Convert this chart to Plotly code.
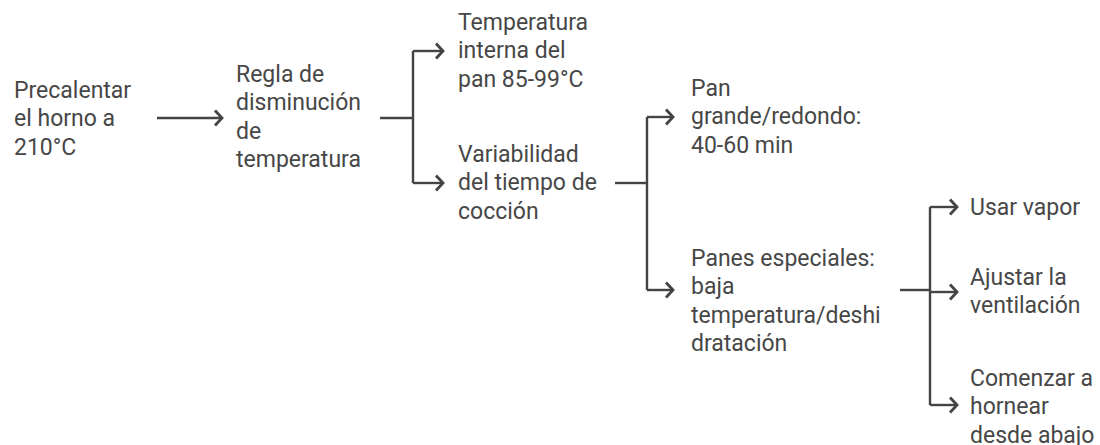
import plotly.graph_objects as go

# ---- data: node labels (one entry per text line) and the tree edges ----
node_ids = ["n1", "n2", "n3a", "n3b", "n4a", "n4b", "n5a", "n5b", "n5c"]
node_lines = {
    "n1": ["Precalentar", "el horno a", "210°C"],
    "n2": ["Regla de", "disminución", "de", "temperatura"],
    "n3a": ["Temperatura", "interna del", "pan 85-99°C"],
    "n3b": ["Variabilidad", "del tiempo de", "cocción"],
    "n4a": ["Pan", "grande/redondo:", "40-60 min"],
    "n4b": ["Panes especiales:", "baja", "temperatura/deshi", "dratación"],
    "n5a": ["Usar vapor"],
    "n5b": ["Ajustar la", "ventilación"],
    "n5c": ["Comenzar a", "hornear", "desde abajo"],
}
edges_parent = ["n1", "n2", "n3b", "n4b"]
edges_children = [["n2"], ["n3a", "n3b"], ["n4a", "n4b"], ["n5a", "n5b", "n5c"]]

# ---- layout (pixel positions of the diagram) ----
W, H = 1100, 445
LINE_H = 28.5
FONT = dict(family="Roboto", size=23, color="#474747")
LINE_COLOR = "#444444"
pos = {  # x of text, y of first text line (cap centre), y where incoming arrow points
    "n1": dict(x=12, y0=90, ay=118),
    "n2": dict(x=234, y0=74, ay=118),
    "n3a": dict(x=456, y0=22, ay=51),
    "n3b": dict(x=456, y0=154, ay=183),
    "n4a": dict(x=689, y0=88, ay=117),
    "n4b": dict(x=689, y0=258, ay=290),
    "n5a": dict(x=968, y0=207, ay=207),
    "n5b": dict(x=968, y0=277, ay=292),
    "n5c": dict(x=968, y0=378, ay=405),
}
# out-going connector: start x, branch (vertical) x, arrow tip x
branch = {
    "n1": dict(sx=157, bx=None, tx=222),
    "n2": dict(sx=380, bx=413, tx=443),
    "n3b": dict(sx=615, bx=647, tx=673),
    "n4b": dict(sx=900, bx=930, tx=957),
}

fig = go.Figure()

lx, ly = [], []
hx, hy = [], []
HEAD_DX, HEAD_DY = 7, 7.5


def seg(x0, y0, x1, y1):
    lx.extend([x0, x1, None])
    ly.extend([y0, y1, None])


def head(x, y):
    hx.extend([x - HEAD_DX, x, x - HEAD_DX, None])
    hy.extend([y - HEAD_DY, y, y + HEAD_DY, None])


for p, kids in zip(edges_parent, edges_children):
    b = branch[p]
    py = pos[p]["ay"]
    if b["bx"] is None:
        seg(b["sx"], py, b["tx"] - 1, py)
        head(b["tx"], py)
        continue
    seg(b["sx"], py, b["bx"], py)
    ys = [pos[k]["ay"] for k in kids]
    seg(b["bx"], min(ys + [py]), b["bx"], max(ys + [py]))
    for k in kids:
        ky = pos[k]["ay"]
        seg(b["bx"], ky, b["tx"] - 1, ky)
        head(b["tx"], ky)

fig.add_trace(go.Scatter(x=lx, y=ly, mode="lines",
                         line=dict(color=LINE_COLOR, width=2.4),
                         hoverinfo="skip", showlegend=False))
fig.add_trace(go.Scatter(x=hx, y=hy, mode="lines",
                         line=dict(color=LINE_COLOR, width=2.8),
                         hoverinfo="skip", showlegend=False))

for nid in node_ids:
    p = pos[nid]
    for i, t in enumerate(node_lines[nid]):
        fig.add_annotation(x=p["x"], y=p["y0"] + i * LINE_H, text=t,
                           xref="x", yref="y", xanchor="left", yanchor="middle",
                           showarrow=False, font=FONT)

fig.update_layout(
    width=W, height=H, margin=dict(l=0, r=0, t=0, b=0),
    paper_bgcolor="white", plot_bgcolor="white",
    xaxis=dict(range=[0, W], visible=False, fixedrange=True),
    yaxis=dict(range=[H, 0], visible=False, fixedrange=True),
    showlegend=False,
)
fig.write_html("out.html", config=dict(displayModeBar=False),
               post_script="document.body.style.margin='0px';")
